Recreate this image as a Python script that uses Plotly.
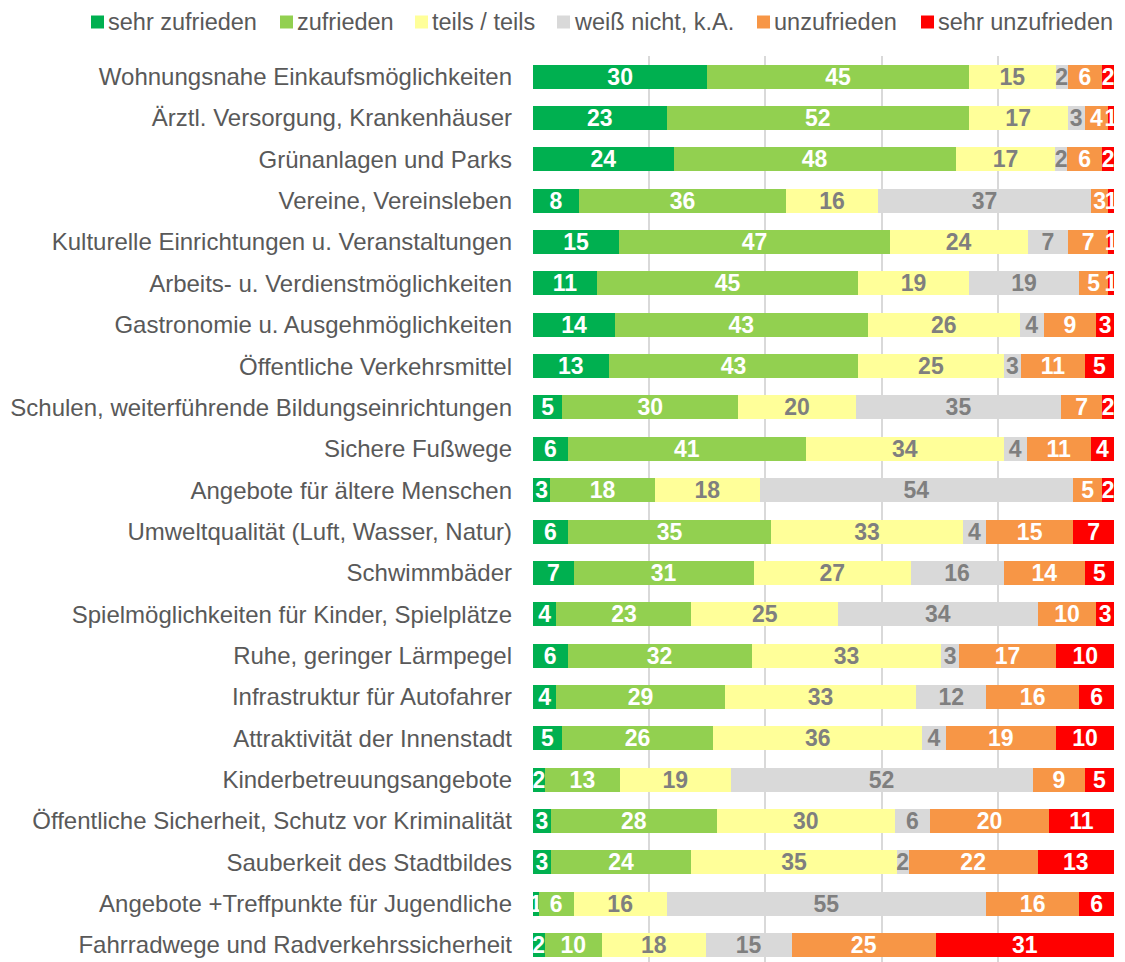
import plotly.graph_objects as go

categories = [
    "Wohnungsnahe Einkaufsmöglichkeiten",
    "Ärztl. Versorgung, Krankenhäuser",
    "Grünanlagen und Parks",
    "Vereine, Vereinsleben",
    "Kulturelle Einrichtungen u. Veranstaltungen",
    "Arbeits- u. Verdienstmöglichkeiten",
    "Gastronomie u. Ausgehmöglichkeiten",
    "Öffentliche Verkehrsmittel",
    "Schulen, weiterführende Bildungseinrichtungen",
    "Sichere Fußwege",
    "Angebote für ältere Menschen",
    "Umweltqualität (Luft, Wasser, Natur)",
    "Schwimmbäder",
    "Spielmöglichkeiten für Kinder, Spielplätze",
    "Ruhe, geringer Lärmpegel",
    "Infrastruktur für Autofahrer",
    "Attraktivität der Innenstadt",
    "Kinderbetreuungsangebote",
    "Öffentliche Sicherheit, Schutz vor Kriminalität",
    "Sauberkeit des Stadtbildes",
    "Angebote +Treffpunkte für Jugendliche",
    "Fahrradwege und Radverkehrssicherheit",
]

sehr_zufrieden = [30, 23, 24, 8, 15, 11, 14, 13, 5, 6, 3, 6, 7, 4, 6, 4, 5, 2, 3, 3, 1, 2]
zufrieden = [45, 52, 48, 36, 47, 45, 43, 43, 30, 41, 18, 35, 31, 23, 32, 29, 26, 13, 28, 24, 6, 10]
teils_teils = [15, 17, 17, 16, 24, 19, 26, 25, 20, 34, 18, 33, 27, 25, 33, 33, 36, 19, 30, 35, 16, 18]
weiss_nicht = [2, 3, 2, 37, 7, 19, 4, 3, 35, 4, 54, 4, 16, 34, 3, 12, 4, 52, 6, 2, 55, 15]
unzufrieden = [6, 4, 6, 3, 7, 5, 9, 11, 7, 11, 5, 15, 14, 10, 17, 16, 19, 9, 20, 22, 16, 25]
sehr_unzufrieden = [2, 1, 2, 1, 1, 1, 3, 5, 2, 4, 2, 7, 5, 3, 10, 6, 10, 5, 11, 13, 6, 31]

series_names = ["sehr zufrieden", "zufrieden", "teils / teils", "weiß nicht, k.A.",
                "unzufrieden", "sehr unzufrieden"]
series_values = [sehr_zufrieden, zufrieden, teils_teils, weiss_nicht, unzufrieden, sehr_unzufrieden]
series_colors = ["#00B050", "#92D050", "#FFFF99", "#D9D9D9", "#F79646", "#FF0000"]
text_colors = ["white", "white", "#7F7F7F", "#7F7F7F", "white", "white"]

# legend layout (pixel positions of the marker left edges)
legend_marker_px = [91, 280, 415, 557, 757, 921]

FONT = "Liberation Sans, Arial, sans-serif"
W, H = 1125, 962
ML, MR, MT, MB = 533, 11, 56, 0
PW, PH = W - ML - MR, H - MT - MB


def px_to_paper_x(px):
    return (px - ML) / PW


def py_to_paper_y(py):
    return (H - MB - py) / PH


fig = go.Figure()
for name, vals, color, tcolor in zip(series_names, series_values, series_colors, text_colors):
    fig.add_trace(go.Bar(
        y=categories, x=vals, name=name, orientation="h",
        marker=dict(color=color, line=dict(width=0)),
        text=[str(v) for v in vals], texttemplate="%{text}",
        textposition="inside", insidetextanchor="middle", textangle=0,
        insidetextfont=dict(family=FONT, size=23, color=tcolor, weight="bold"),
        hoverinfo="skip", showlegend=False,
    ))

shapes = []
annotations = []
for name, color, mx in zip(series_names, series_colors, legend_marker_px):
    shapes.append(dict(type="rect", xref="paper", yref="paper",
                       x0=px_to_paper_x(mx), x1=px_to_paper_x(mx + 13),
                       y0=py_to_paper_y(28.5), y1=py_to_paper_y(15.5),
                       fillcolor=color, line=dict(width=0), layer="above"))
    annotations.append(dict(text=name, xref="paper", yref="paper",
                            x=px_to_paper_x(mx + 15), y=py_to_paper_y(22),
                            xanchor="left", yanchor="middle", showarrow=False,
                            font=dict(family=FONT, size=23.5, color="#595959")))

n = len(categories)
fig.update_layout(
    barmode="stack", barnorm="percent", bargap=0.42,
    width=W, height=H,
    margin=dict(l=ML, r=MR, t=MT, b=MB, autoexpand=False),
    plot_bgcolor="white", paper_bgcolor="white",
    font=dict(family=FONT, size=24, color="#595959"),
    uniformtext=dict(minsize=23, mode="show"),
    shapes=shapes, annotations=annotations,
    showlegend=False,
)
fig.update_xaxes(range=[0, 100], showticklabels=False, showgrid=True, gridcolor="#D9D9D9",
                 gridwidth=2, dtick=20, zeroline=False, showline=False, fixedrange=True)
fig.update_yaxes(range=[n - 0.59, -0.5], showgrid=False, automargin=False,
                 ticklabelstandoff=20,
                 tickfont=dict(family=FONT, size=24, color="#595959"), showline=False,
                 fixedrange=True)

fig.write_html("out.html", config={"displayModeBar": False},
               post_script="document.body.style.margin='0';")
